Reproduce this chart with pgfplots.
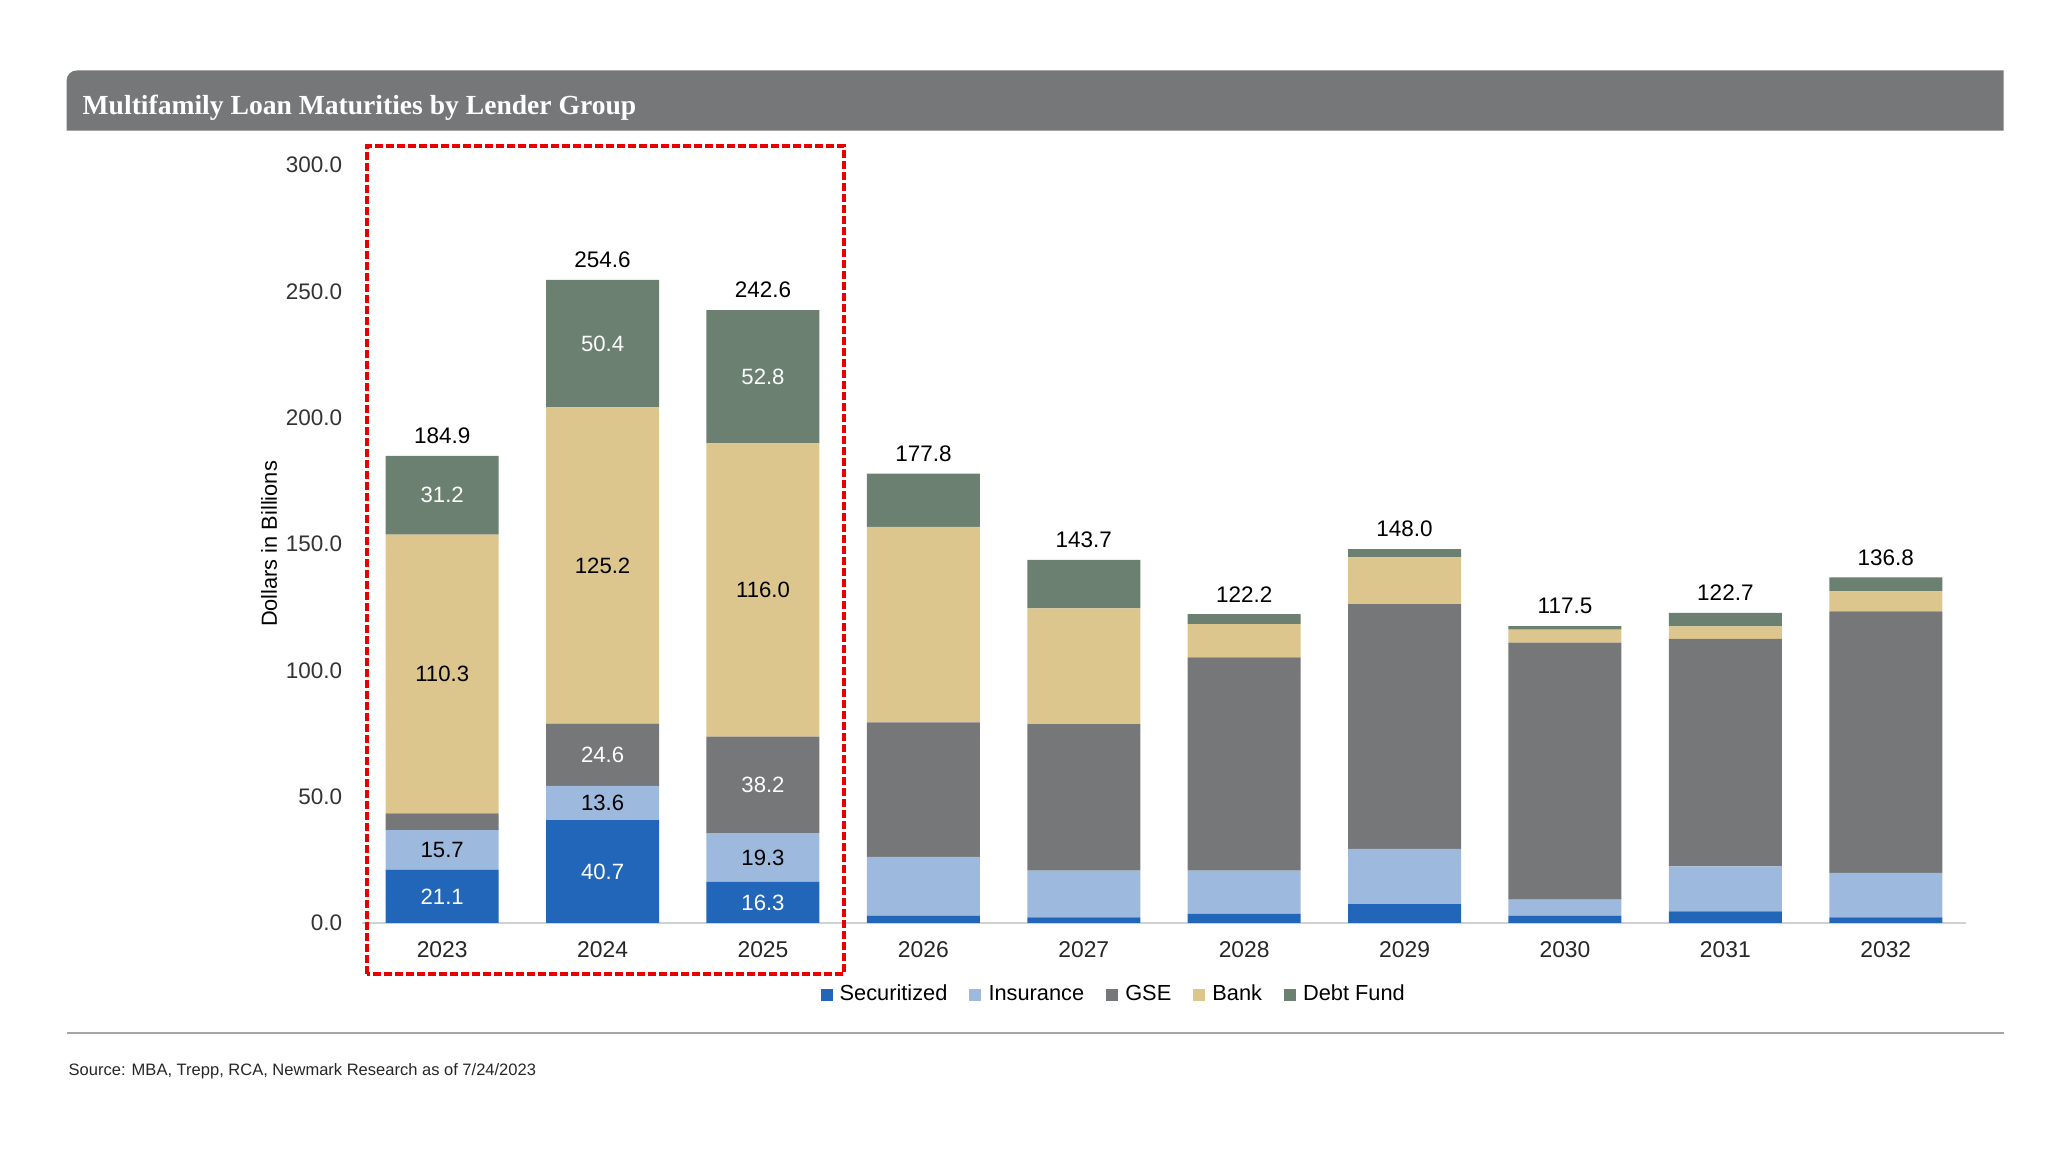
\documentclass[border=0pt]{standalone}
\usepackage{fontspec}
\setmainfont{Liberation Sans}
\newfontfamily\titlefont{Liberation Serif}
\usepackage{pgfplots}
\usepackage{pgfplotstable}
\pgfplotsset{compat=1.18}
\newcommand\fs[1]{\fontsize{#1}{#1}\selectfont}
\definecolor{csec}{RGB}{33,102,184}
\definecolor{cins}{RGB}{157,186,222}
\definecolor{cgse}{RGB}{118,119,121}
\definecolor{cbank}{RGB}{220,198,142}
\definecolor{cdebt}{RGB}{107,128,113}
\definecolor{ctitle}{RGB}{118,119,121}
\definecolor{cred}{RGB}{230,0,0}
\tikzset{
  seg/.style={font=\fs{6.3}, anchor=center, inner sep=0pt},
}

\pgfplotstableread{
x Sec Ins GSE Bank Debt Total
0 21.1 15.7 6.6 110.3 31.2 184.9
1 40.7 13.6 24.6 125.2 50.4 254.6
2 16.3 19.3 38.2 116.0 52.8 242.6
3 2.9 23.3 53.2 77.4 21.0 177.8
4 2.2 18.5 58.0 45.8 19.2 143.7
5 3.6 17.1 84.4 13.2 3.9 122.2
6 7.5 21.8 96.9 18.5 3.3 148.0
7 2.9 6.3 101.8 5.1 1.4 117.5
8 4.6 17.8 90.0 5.0 5.3 122.7
9 2.2 17.6 103.5 7.9 5.6 136.8
}\data

\begin{document}
\begin{tikzpicture}
\useasboundingbox (0,0) rectangle (204.8mm,115.2mm);
% title bar
\fill[ctitle] (6.66mm,102.14mm) [rounded corners=1mm] -- (6.66mm,108.15mm) [sharp corners] -- (200.35mm,108.15mm) -- (200.35mm,102.14mm) -- cycle;
\node[anchor=base west, text=white, font=\titlefont\bfseries\fs{7.85}, inner sep=0pt] at (8.2mm,103.7mm) {Multifamily Loan Maturities by Lender Group};

\begin{axis}[
  at={(36.2mm,22.9mm)}, anchor=south west,
  scale only axis, width=160.4mm, height=75.8mm,
  xmin=-0.5, xmax=9.5, ymin=0, ymax=300,
  ybar stacked, bar width=11.3mm,
  clip=false,
  axis line style={draw=none}, tick style={draw=none}, major tick length=0pt,
  ytick={0,50,...,300},
  /pgf/number format/assume math mode=true,
  yticklabel style={/pgf/number format/.cd, fixed, fixed zerofill, precision=1, /tikz/.cd, font=\fs{6.4}, text=black!80, xshift=-0.75mm},
  xtick={0,...,9},
  xticklabels={2023,2024,2025,2026,2027,2028,2029,2030,2031,2032},
  xticklabel style={font=\fs{6.5}, text=black!85, yshift=-0.6mm},
  ylabel={Dollars in Billions},
  ylabel style={at={(axis description cs:-0.058,0.5)}, anchor=center, font=\fs{6.2}},
  legend columns=5,
  legend style={draw=none, fill=none, at={(axis description cs:0.2855,-0.0955)}, anchor=west, font=\fs{6.2}, inner sep=0pt,
    /tikz/every even column/.append style={column sep=1.5mm}},
  legend image code/.code={\fill[#1] (0mm,-0.6mm) rectangle (1.2mm,0.6mm);},
]
\addplot[fill=csec, draw=none] table[x=x, y=Sec] {\data};
\addlegendentry{Securitized}
\addplot[fill=cins, draw=none] table[x=x, y=Ins] {\data};
\addlegendentry{Insurance}
\addplot[fill=cgse, draw=none] table[x=x, y=GSE] {\data};
\addlegendentry{GSE}
\addplot[fill=cbank, draw=none] table[x=x, y=Bank] {\data};
\addlegendentry{Bank}
\addplot[fill=cdebt, draw=none] table[x=x, y=Debt] {\data};
\addlegendentry{Debt Fund}

\draw[black!18, line width=0.6pt] (axis cs:-0.5,0) -- (axis cs:9.5,0);

% label anchors (segment centres)
\coordinate (a1) at (axis cs:0,10.55);
\coordinate (a2) at (axis cs:0,28.95);
\coordinate (a3) at (axis cs:0,98.55);
\coordinate (a4) at (axis cs:0,169.3);
\coordinate (b1) at (axis cs:1,20.35);
\coordinate (b2) at (axis cs:1,47.5);
\coordinate (b3) at (axis cs:1,66.6);
\coordinate (b4) at (axis cs:1,141.5);
\coordinate (b5) at (axis cs:1,229.3);
\coordinate (c1) at (axis cs:2,8.15);
\coordinate (c2) at (axis cs:2,25.95);
\coordinate (c3) at (axis cs:2,54.7);
\coordinate (c4) at (axis cs:2,131.8);
\coordinate (c5) at (axis cs:2,216.2);
\end{axis}

% segment labels
\node[seg, text=white] at (a1) {21.1};
\node[seg] at (a2) {15.7};
\node[seg] at (a3) {110.3};
\node[seg, text=white] at (a4) {31.2};
\node[seg, text=white] at (b1) {40.7};
\node[seg] at (b2) {13.6};
\node[seg, text=white] at (b3) {24.6};
\node[seg] at (b4) {125.2};
\node[seg, text=white] at (b5) {50.4};
\node[seg, text=white] at (c1) {16.3};
\node[seg] at (c2) {19.3};
\node[seg, text=white] at (c3) {38.2};
\node[seg] at (c4) {116.0};
\node[seg, text=white] at (c5) {52.8};

% totals
\begin{axis}[
  at={(36.2mm,22.9mm)}, anchor=south west,
  scale only axis, width=160.4mm, height=75.8mm,
  xmin=-0.5, xmax=9.5, ymin=0, ymax=300,
  hide axis, clip=false,
]
\addplot[draw=none, mark=none, nodes near coords, point meta=explicit symbolic,
  every node near coord/.append style={font=\fs{6.4}, anchor=center, inner sep=0pt, yshift=2.0mm}]
  table[x=x, y=Total, meta=Total] {\data};
\end{axis}

% red dashed highlight
\draw[cred, line width=0.45mm, dash pattern=on 0.8mm off 0.3mm] (36.7mm,17.8mm) rectangle (84.4mm,100.6mm);
% separator and source
\draw[black!35, line width=0.4pt] (6.66mm,11.9mm) -- (200.35mm,11.9mm);
\node[anchor=base west, inner sep=0pt, font=\fs{4.7}, text=black!85] at (6.8mm,7.6mm) {Source: MBA, Trepp, RCA, Newmark Research as of 7/24/2023};
\end{tikzpicture}
\end{document}
